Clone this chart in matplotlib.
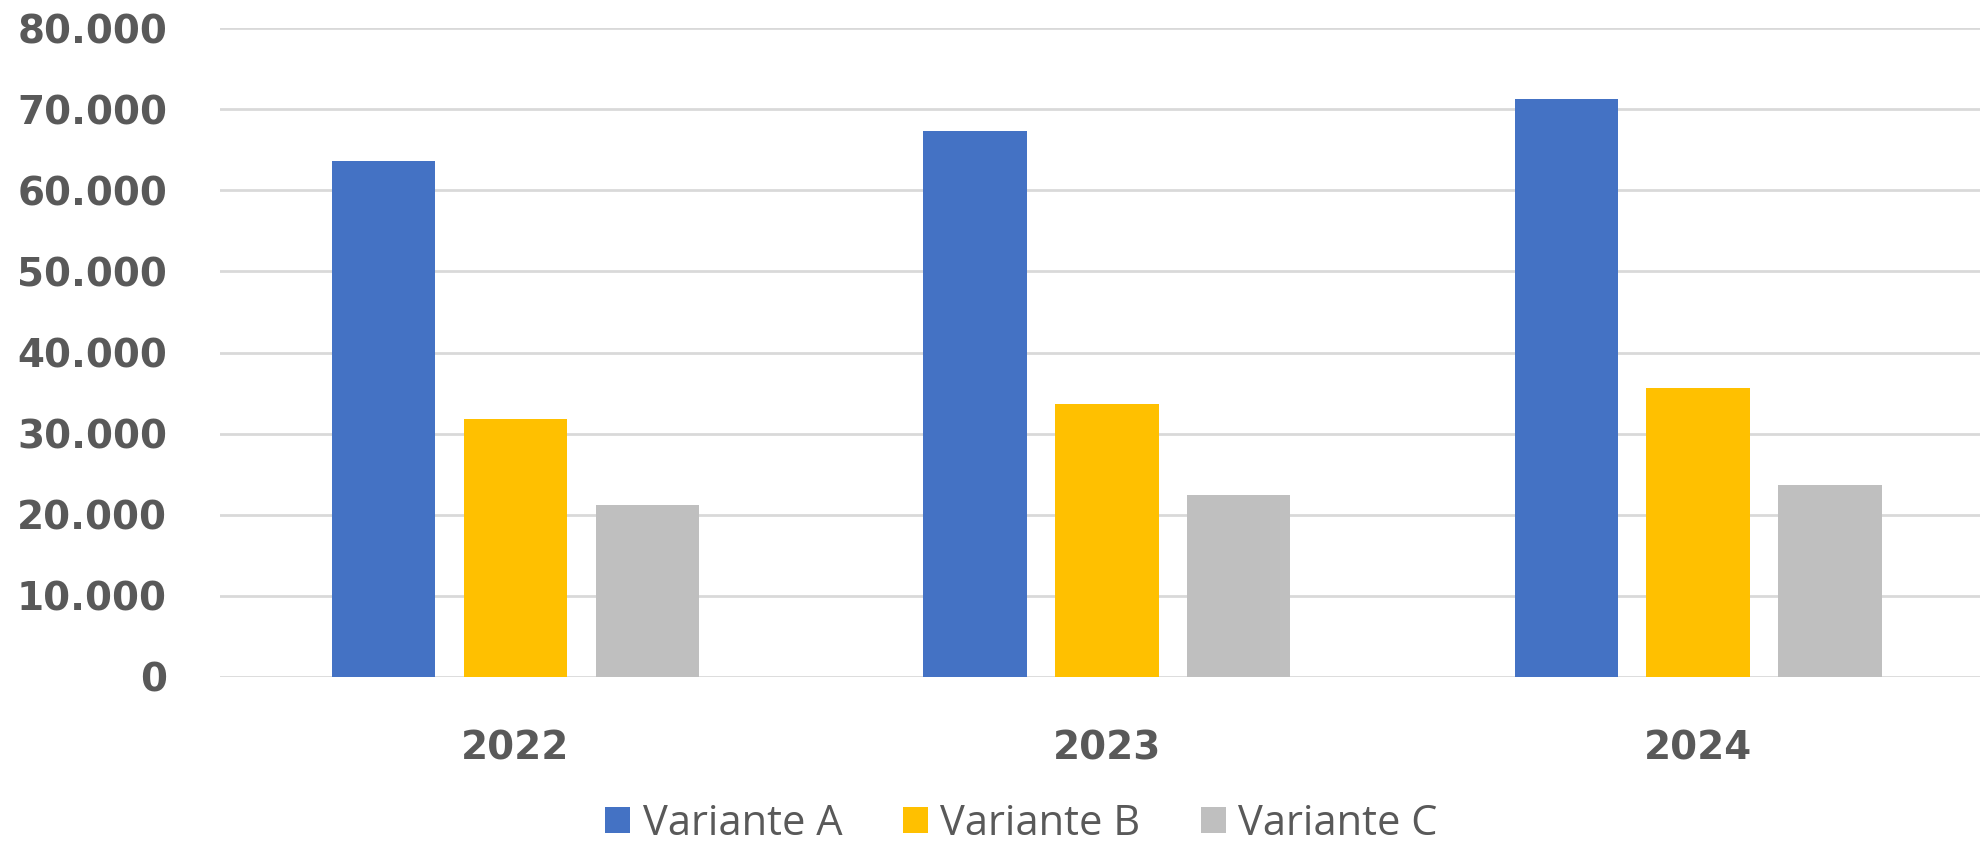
import numpy as np
import matplotlib.pyplot as plt
from matplotlib.ticker import FuncFormatter
from matplotlib.patches import Patch

# Werte
jahre = ['2022', '2023', '2024']
variante_a = [63650, 67270, 71220]
variante_b = [31760, 33630, 35580]
variante_c = [21170, 22380, 23650]
serien = ['Variante A', 'Variante B', 'Variante C']
farben = ['#4472C4', '#FFC000', '#BFBFBF']

grau = '#595959'

fig = plt.figure(figsize=(19.8, 8.51), dpi=100)
ax = fig.add_axes([0.111, 0.2045, 0.896, 0.7625])

x = np.arange(len(jahre))
breite = 0.175
abstand = 0.223
for i, (werte, farbe) in enumerate(zip([variante_a, variante_b, variante_c], farben)):
    ax.bar(x + (i - 1) * abstand, werte, breite, color=farbe, zorder=3)

ax.set_xlim(-0.5, 2.5)
ax.set_ylim(0, 80000)
ax.set_yticks(np.arange(0, 80001, 10000))
ax.yaxis.set_major_formatter(FuncFormatter(lambda v, p: f'{int(v):,}'.replace(',', '.')))
ax.set_xticks(x)
ax.set_xticklabels(jahre)

ax.grid(axis='y', color='#D9D9D9', linewidth=2, zorder=0)
for s in ax.spines.values():
    s.set_visible(False)
ax.tick_params(length=0)
for lab in ax.get_yticklabels() + ax.get_xticklabels():
    lab.set_fontsize(28)
    lab.set_fontweight('bold')
    lab.set_color(grau)
ax.tick_params(axis='y', pad=38)
ax.tick_params(axis='x', pad=38)

# Legende unten, leicht nach rechts versetzt wie im Original
handles = [Patch(facecolor=f, label=s) for f, s in zip(farben, serien)]
fig.legend(handles=handles, loc='center', bbox_to_anchor=(0.516, 0.032), ncol=3,
           frameon=False, handlelength=0.6, handleheight=0.6, handletextpad=0.3,
           columnspacing=1.45, borderpad=0.2, prop={'family': 'Open Sans', 'size': 30},
           labelcolor=grau)

fig.savefig('out.png', dpi=100)
